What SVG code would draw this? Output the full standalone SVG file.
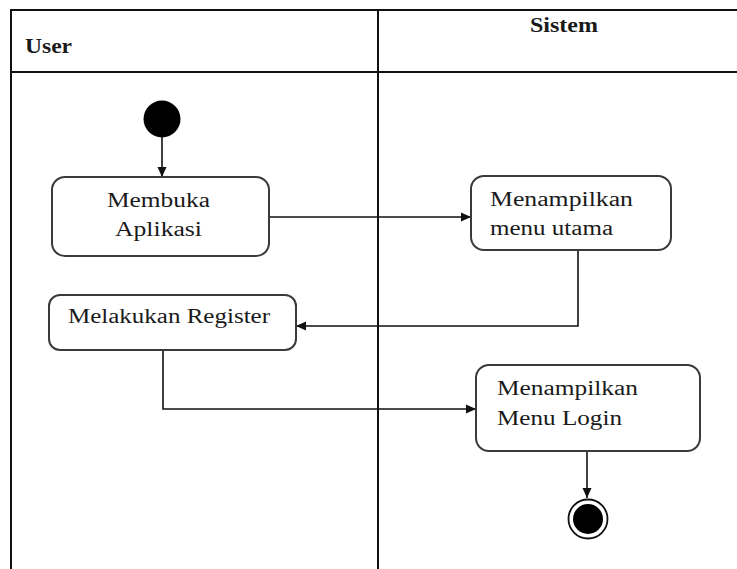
<svg xmlns="http://www.w3.org/2000/svg" width="737" height="569" viewBox="0 0 737 569">
  <style>
    .lane { fill: none; stroke: #111; stroke-width: 2; }
    .act { fill: #fff; stroke: #3a3a3a; stroke-width: 2; }
    .lbl { font-family: "Liberation Serif", "Times New Roman", serif; font-size: 20px; fill: #1a1a1a; }
    .hdr { font-family: "Liberation Serif", "Times New Roman", serif; font-size: 20px; font-weight: bold; fill: #1a1a1a; }
    .flow { fill: none; stroke: #111; stroke-width: 1.6; }
  </style>
  <defs>
    <marker id="arrow" viewBox="0 0 10 10" refX="10" refY="5" markerWidth="10" markerHeight="10" markerUnits="userSpaceOnUse" orient="auto">
      <path d="M0,0.5 L10,5 L0,9.5 Z" fill="#111"/>
    </marker>
  </defs>

  <rect width="737" height="569" fill="#fff"/>

  <!-- swimlanes -->
  <g id="swimlanes">
    <path class="lane" d="M11,569 V10 H737"/>
    <path class="lane" d="M11,72 H737"/>
    <path class="lane" d="M378,10 V569"/>
    <text class="hdr" x="25" y="53" textLength="47" lengthAdjust="spacingAndGlyphs">User</text>
    <text class="hdr" x="530" y="32" textLength="68" lengthAdjust="spacingAndGlyphs">Sistem</text>
  </g>

  <!-- connectors -->
  <g id="connectors">
    <path class="flow" d="M162,137 V177" marker-end="url(#arrow)"/>
    <path class="flow" d="M269,217 H471" marker-end="url(#arrow)"/>
    <path class="flow" d="M578,250 V326 H296" marker-end="url(#arrow)"/>
    <path class="flow" d="M163,350 V409 H476" marker-end="url(#arrow)"/>
    <path class="flow" d="M587,451 V498" marker-end="url(#arrow)"/>
  </g>

  <g id="start">
    <circle cx="162" cy="119" r="18.5" fill="#000"/>
  </g>

  <g id="membuka-aplikasi">
    <rect class="act" x="52" y="177" width="217" height="79" rx="13"/>
    <text class="lbl" x="107" y="207" textLength="103" lengthAdjust="spacingAndGlyphs">Membuka</text>
    <text class="lbl" x="115" y="236" textLength="87" lengthAdjust="spacingAndGlyphs">Aplikasi</text>
  </g>

  <g id="menampilkan-menu-utama">
    <rect class="act" x="471" y="176" width="200" height="74" rx="13"/>
    <text class="lbl" x="490" y="206" textLength="143" lengthAdjust="spacingAndGlyphs">Menampilkan</text>
    <text class="lbl" x="490" y="235" textLength="123" lengthAdjust="spacingAndGlyphs">menu utama</text>
  </g>

  <g id="melakukan-register">
    <rect class="act" x="49" y="295" width="247" height="55" rx="11"/>
    <text class="lbl" x="68" y="323" textLength="202" lengthAdjust="spacingAndGlyphs">Melakukan Register</text>
  </g>

  <g id="menampilkan-menu-login">
    <rect class="act" x="476" y="365" width="224" height="86" rx="13"/>
    <text class="lbl" x="497" y="395" textLength="141" lengthAdjust="spacingAndGlyphs">Menampilkan</text>
    <text class="lbl" x="497" y="425" textLength="125" lengthAdjust="spacingAndGlyphs">Menu Login</text>
  </g>

  <g id="end">
    <circle cx="588" cy="519" r="19.5" fill="#fff" stroke="#111" stroke-width="1.8"/>
    <circle cx="588" cy="519" r="15" fill="#000"/>
  </g>
</svg>
